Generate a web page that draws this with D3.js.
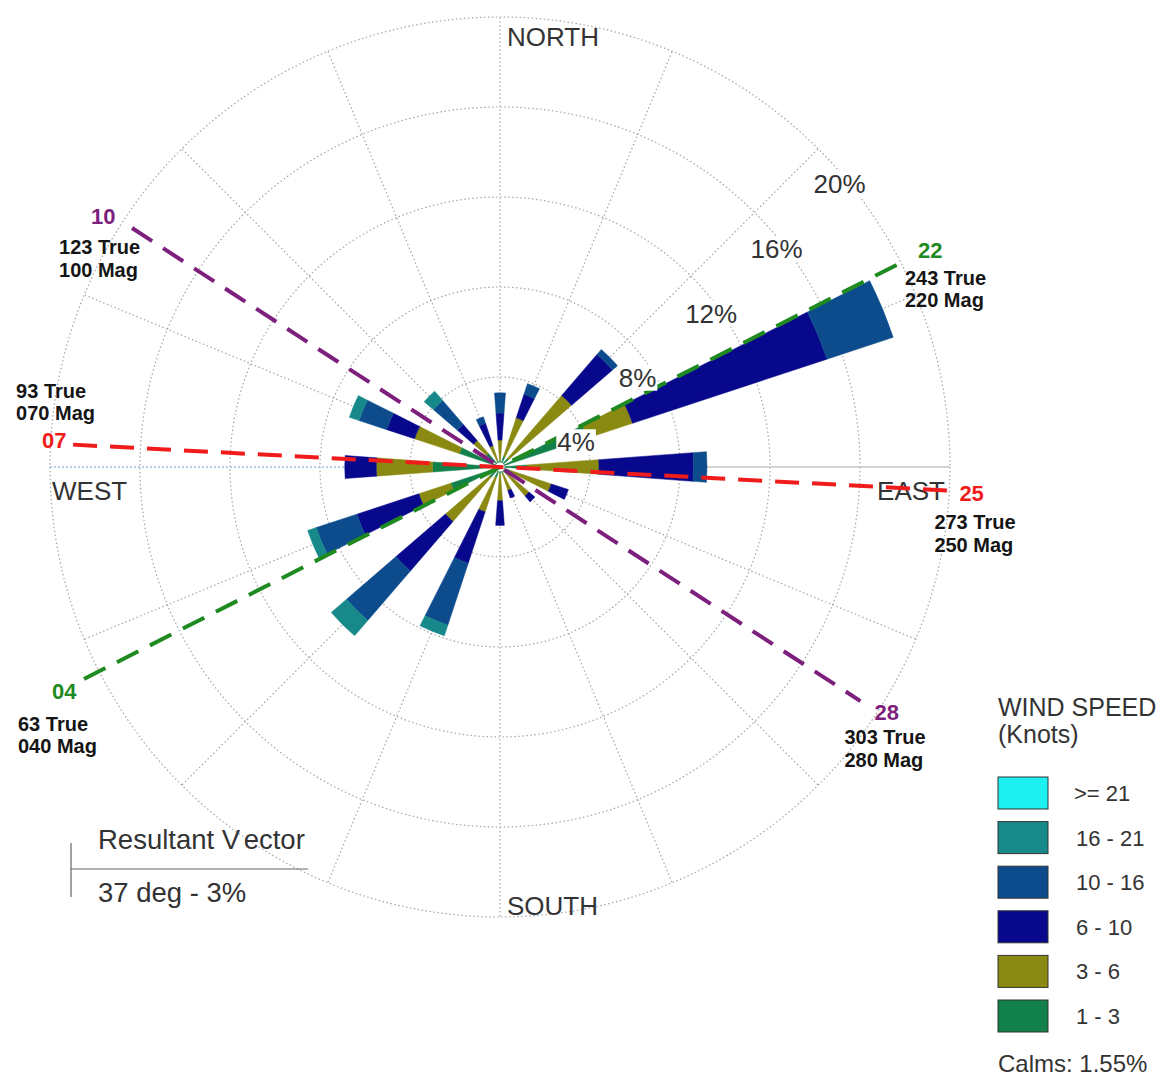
<!DOCTYPE html>
<html>
<head>
<meta charset="utf-8">
<script src="https://cdn.jsdelivr.net/npm/d3@7"></script>
<style>
  html, body { margin: 0; padding: 0; background: #ffffff; }
  svg { display: block; font-family: "Liberation Sans", Arial, Helvetica, sans-serif; }
</style>
</head>
<body>
<svg id="chart" width="1162" height="1081"></svg>
<script>
// Wind direction sectors (degrees true, clockwise from north)
const directions = [0, 22.5, 45, 67.5, 90, 112.5, 135, 157.5, 180, 202.5, 225, 247.5, 270, 292.5, 315, 337.5];

// Frequency (% of all observations) per speed class and direction
const freq_1_3   = [0.3, 0.5, 0.5, 4.1, 1.2, 0.5, 0.4, 0.3, 0.3, 0.5, 0.6, 2.3, 3.0, 1.9, 0.8, 0.3];
const freq_3_6   = [0.9, 1.8, 3.7, 2.1, 3.2, 1.9, 1.3, 0.8, 1.2, 1.6, 2.6, 1.5, 2.5, 2.1, 0.75, 0.7];
const freq_6_10  = [1.2, 1.1, 2.4, 9.1, 4.2, 0.8, 0.35, 0.35, 1.1, 2.4, 2.9, 2.9, 1.4, 1.3, 0.95, 1.05];
const freq_10_16 = [0.9, 0.5, 0.3, 3.1, 0.6, 0, 0, 0, 0, 2.9, 2.9, 1.9, 0, 1.3, 1.4, 0.3];
const freq_16_21 = [0, 0, 0, 0, 0, 0, 0, 0, 0, 0.5, 0.9, 0.4, 0, 0.45, 0.55, 0];
const freq_21up  = [0, 0, 0, 0, 0, 0, 0, 0, 0, 0, 0, 0, 0, 0, 0, 0];

const speedClasses = ["1 - 3", "3 - 6", "6 - 10", "10 - 16", "16 - 21", ">= 21"];
const speedColors  = ["#11804a", "#8a8a12", "#08088c", "#0c4c8c", "#18898b", "#1cf0f0"];
const calmsPct = 1.55;

// Radial grid
const ringTicks  = [4, 8, 12, 16, 20];
const ringLabels = ["4%", "8%", "12%", "16%", "20%"];
const spokeAngles = d3.range(0, 360, 22.5);
const cardinalLabels = ["NORTH", "EAST", "SOUTH", "WEST"];

// Runway ends: designator, true heading, magnetic heading, reach of the centreline (%)
const runwayIds      = ["04", "22", "07", "25", "10", "28"];
const runwayTrue     = [63, 243, 93, 273, 123, 303];
const runwayMag      = ["040", "220", "070", "250", "100", "280"];
const runwayReachPct = [20.75, 19.8, 19.0, 20.0, 19.5, 19.1];
const runwayPairs    = [[0, 1], [2, 3], [4, 5]];
const runwayColors   = ["#1f8a1f", "#1f8a1f", "#f01c1c", "#f01c1c", "#7d1f7d", "#7d1f7d"];

// Resultant vector
const resultantText = ["Resultant Vector", "37 deg - 3%"];

// ---------------------------------------------------------------
const svg = d3.select("#chart");
const cx = 500, cy = 467, R = 450;
const rScale = d3.scaleLinear().domain([0, 20]).range([0, R]);
const rad = d => d * Math.PI / 180;
const polar = (bearing, r) => [cx + r * Math.sin(rad(bearing)), cy - r * Math.cos(rad(bearing))];

svg.append("rect").attr("width", 1162).attr("height", 1081).attr("fill", "#fff");

const g = svg.append("g");

// Rings
g.selectAll("circle.ring").data(ringTicks).join("circle")
  .attr("class", "ring")
  .attr("cx", cx).attr("cy", cy)
  .attr("r", d => rScale(d))
  .attr("fill", "none")
  .attr("stroke", "#a5a5a5")
  .attr("stroke-width", 1.2)
  .attr("stroke-dasharray", "1.5,2.5");

// Spokes
g.selectAll("line.spoke").data(spokeAngles.filter(a => a !== 90 && a !== 270)).join("line")
  .attr("class", "spoke")
  .attr("x1", cx).attr("y1", cy)
  .attr("x2", d => polar(d, R)[0]).attr("y2", d => polar(d, R)[1])
  .attr("stroke", "#a5a5a5")
  .attr("stroke-width", 1.2)
  .attr("stroke-dasharray", "1.5,2.5");

// West half of the E-W axis (dotted light blue) and east half (solid grey)
g.append("line")
  .attr("x1", cx).attr("y1", cy).attr("x2", polar(270, R)[0]).attr("y2", cy)
  .attr("stroke", "#9fbfe0").attr("stroke-width", 1.4).attr("stroke-dasharray", "2,2");
g.append("line")
  .attr("x1", cx).attr("y1", cy).attr("x2", polar(90, R)[0]).attr("y2", cy)
  .attr("stroke", "#c4c4c4").attr("stroke-width", 1.4);

// Stacked wedges
const series = [freq_1_3, freq_3_6, freq_6_10, freq_10_16, freq_16_21, freq_21up];
const table = directions.map((dir, i) => {
  const row = { dir };
  speedClasses.forEach((k, j) => { row[k] = series[j][i]; });
  return row;
});
const stacked = d3.stack().keys(speedClasses)(table);
const halfWidth = 4.25;
const arc = d3.arc();

const bars = g.append("g").attr("transform", `translate(${cx},${cy})`);
stacked.forEach((layer, j) => {
  bars.append("g").selectAll("path").data(layer.filter(d => d[1] - d[0] > 0)).join("path")
    .attr("d", d => arc({
      innerRadius: rScale(d[0]),
      outerRadius: rScale(d[1]),
      startAngle: rad(d.data.dir - halfWidth),
      endAngle: rad(d.data.dir + halfWidth)
    }))
    .attr("fill", speedColors[j])
    .attr("stroke", speedColors[j])
    .attr("stroke-width", 0.5);
});

// Calm hub
g.append("circle").attr("cx", cx).attr("cy", cy).attr("r", 4.5).attr("fill", "#fff");

// Cardinal labels
const cardinalPos = [
  [cx + 7, cy - R + 29, "start"],
  [cx + R - 5, cy + 33, "end"],
  [cx + 7, cy + R - 2, "start"],
  [cx - R + 2, cy + 33, "start"]
];
g.selectAll("text.cardinal").data(cardinalLabels).join("text")
  .attr("class", "cardinal")
  .attr("x", (d, i) => cardinalPos[i][0])
  .attr("y", (d, i) => cardinalPos[i][1])
  .attr("text-anchor", (d, i) => cardinalPos[i][2])
  .attr("font-size", 26)
  .attr("fill", "#333")
  .text(d => d);

// Runway centrelines
const rwy = g.append("g");
runwayPairs.forEach(([a, b]) => {
  const pA = polar(runwayTrue[a] + 180, rScale(runwayReachPct[a]));
  const pB = polar(runwayTrue[b] + 180, rScale(runwayReachPct[b]));
  rwy.append("line")
    .attr("x1", pA[0]).attr("y1", pA[1]).attr("x2", pB[0]).attr("y2", pB[1])
    .attr("stroke", runwayColors[a])
    .attr("stroke-width", 4)
    .attr("stroke-dasharray", "24,13");
});

// Runway end labels, offset from the end of each centreline
const endOffsets = [
  { id: [-32, 20],  t: [-66, 52], m: [-66, 74] },
  { id: [21, -7],   t: [8, 20],   m: [8, 42] },
  { id: [-31, 3],   t: [-57, -47], m: [-57, -25] },
  { id: [10, 10],   t: [-15, 38], m: [-15, 61] },
  { id: [-41, -4],  t: [-73, 26], m: [-73, 49] },
  { id: [14, 19],   t: [-16, 43], m: [-16, 66] }
];
runwayIds.forEach((id, i) => {
  const p = polar(runwayTrue[i] + 180, rScale(runwayReachPct[i]));
  const o = endOffsets[i];
  rwy.append("text")
    .attr("x", p[0] + o.id[0]).attr("y", p[1] + o.id[1])
    .attr("font-size", 22).attr("font-weight", "bold")
    .attr("fill", runwayColors[i])
    .text(id);
  rwy.append("text")
    .attr("x", p[0] + o.t[0]).attr("y", p[1] + o.t[1])
    .attr("font-size", 20).attr("font-weight", "bold")
    .attr("fill", "#151515")
    .text(`${runwayTrue[i]} True`);
  rwy.append("text")
    .attr("x", p[0] + o.m[0]).attr("y", p[1] + o.m[1])
    .attr("font-size", 20).attr("font-weight", "bold")
    .attr("fill", "#151515")
    .text(`${runwayMag[i]} Mag`);
});

// Ring value labels on white plates
const ringLabelBearing = [72, 57, 54, 51.8, 50.2];
const ringLabelInset = [10, 16, 9, 8, 8];
const rl = g.append("g");
ringTicks.forEach((v, i) => {
  const p = polar(ringLabelBearing[i], rScale(v) - ringLabelInset[i]);
  const t = rl.append("text")
    .attr("x", p[0]).attr("y", p[1] + 9)
    .attr("text-anchor", "middle")
    .attr("font-size", 26)
    .attr("fill", "#333")
    .text(ringLabels[i]);
  const bb = t.node().getBBox();
  rl.insert("rect", () => t.node())
    .attr("x", bb.x - 1).attr("y", bb.y + 2)
    .attr("width", bb.width + 2).attr("height", bb.height - 4)
    .attr("fill", "#fff");
});

// Resultant vector box
const rv = svg.append("g");
rv.append("line").attr("x1", 71).attr("y1", 843).attr("x2", 71).attr("y2", 897)
  .attr("stroke", "#666").attr("stroke-width", 1.2);
rv.append("line").attr("x1", 71).attr("y1", 869).attr("x2", 308).attr("y2", 869)
  .attr("stroke", "#666").attr("stroke-width", 1.2);
const rt = rv.append("text").attr("x", 98).attr("y", 849).attr("font-size", 27.5).attr("fill", "#333");
rt.append("tspan").text("Resultant V");
rt.append("tspan").attr("dx", 5).text("ector");
rv.append("text").attr("x", 98).attr("y", 902).attr("font-size", 27.5).attr("fill", "#333")
  .text(resultantText[1]);

// Legend
const lg = svg.append("g").attr("transform", "translate(998,0)");
lg.append("text").attr("x", 0).attr("y", 716).attr("font-size", 25).attr("fill", "#333").text("WIND SPEED");
lg.append("text").attr("x", 0).attr("y", 743).attr("font-size", 25).attr("fill", "#333").text("(Knots)");
const legendOrder = d3.range(speedClasses.length).reverse();
const rowY = d3.scalePoint().domain(legendOrder).range([777, 1000]);
lg.selectAll("rect.sw").data(legendOrder).join("rect")
  .attr("class", "sw")
  .attr("x", 0).attr("y", d => rowY(d))
  .attr("width", 50).attr("height", 32)
  .attr("fill", d => speedColors[d])
  .attr("stroke", "#333").attr("stroke-width", 1);
lg.selectAll("text.sl").data(legendOrder).join("text")
  .attr("class", "sl")
  .attr("x", d => d === 5 ? 76 : 78).attr("y", d => rowY(d) + 24)
  .attr("font-size", 22).attr("fill", "#333")
  .text(d => speedClasses[d]);
lg.append("text").attr("x", 0).attr("y", 1072).attr("font-size", 24).attr("fill", "#333")
  .text(`Calms: ${calmsPct}%`);
</script>
</body>
</html>
